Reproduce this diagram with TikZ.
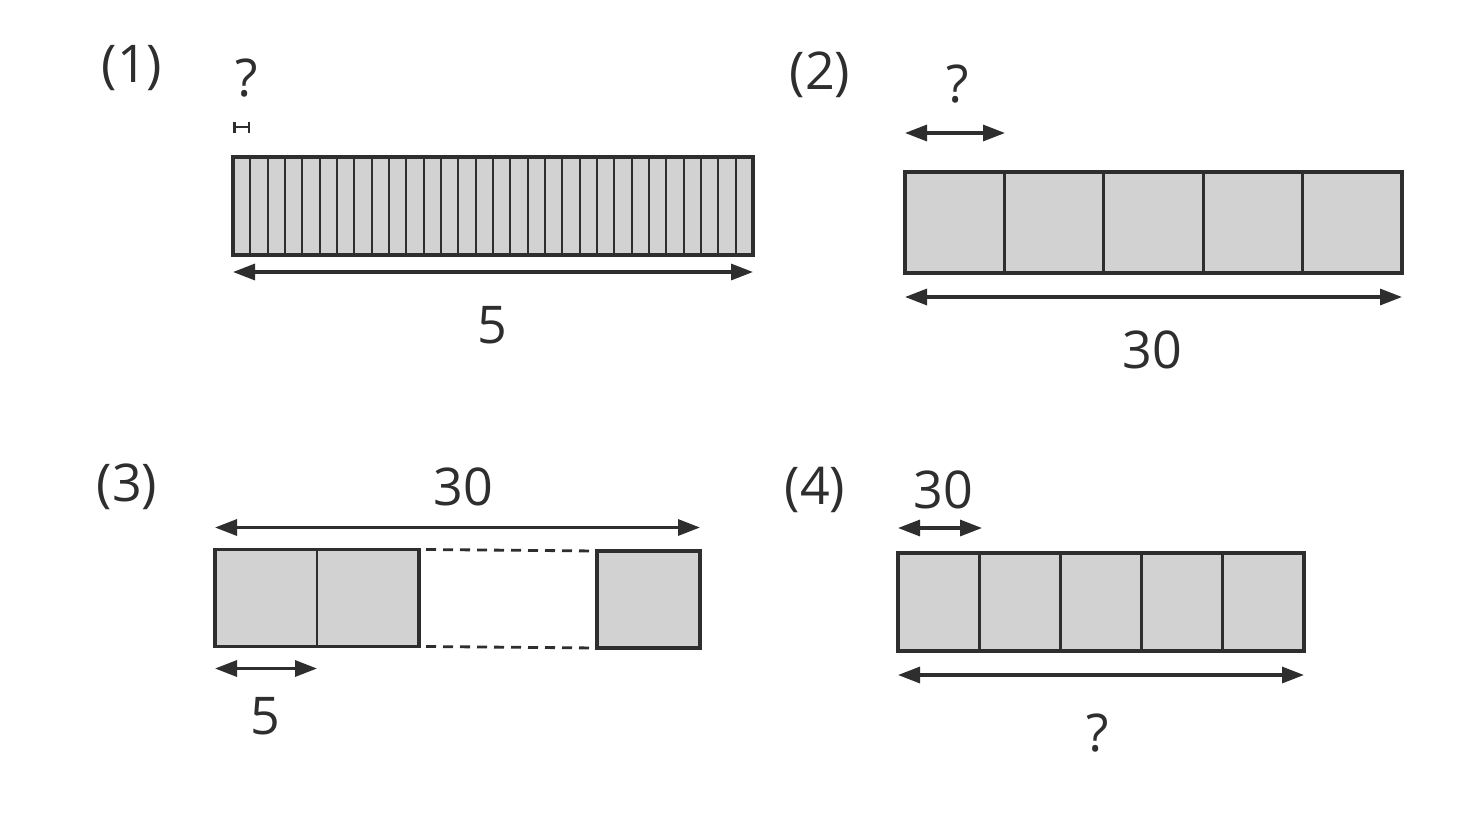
\documentclass[tikz,border=0pt]{standalone}
\usepackage{fontspec}
\setmainfont{Open Sans}
\usetikzlibrary{arrows.meta,positioning}
\definecolor{ink}{HTML}{2E2E2E}
\definecolor{shade}{HTML}{D2D2D2}
\begin{document}
\begin{tikzpicture}[x=1pt, y=-1pt,
    tape/.style={draw=ink, line width=3.6pt, fill=shade, inner sep=0pt, outer sep=0pt},
    divider/.style={draw=ink, line width=2.8pt},
    dimarrow/.style={draw=ink, line width=3.2pt, {Triangle[length=22pt,width=16pt]}-{Triangle[length=22pt,width=16pt]}},
    label/.style={text=ink, inner sep=0pt, font=\fontsize{52}{62}\selectfont}]
  \useasboundingbox[fill=white] (0,0) rectangle (1458,822);

  % (1) 5 split into 30 strips
  \node[label] (n1) at (132,68) {(1)};
  \node[tape, minimum width=520pt, minimum height=98pt] (b1) at (493,206) {};
  \foreach \k in {1,...,29}
    \draw[divider, line width=2.3pt] ([xshift=\k*17.333pt]b1.north west) -- ([xshift=\k*17.333pt]b1.south west);
  \draw[draw=ink, line width=2.6pt, {Bar[width=11pt]}-{Bar[width=11pt]}] ([yshift=30pt]b1.north west) -- ([xshift=17.3pt, yshift=30pt]b1.north west);
  \draw[dimarrow] ([yshift=-17pt]b1.south west) -- ([yshift=-17pt]b1.south east);
  \node[label] (q1) at (247,78) {?};
  \node[label] (v1) at (492,325) {5};

  % (2) 30 split into 5
  \node[label] (n2) at (820,75) {(2)};
  \node[tape, minimum width=497pt, minimum height=101pt] (b2) at (1153.5,222.5) {};
  \foreach \k in {1,...,4}
    \draw[divider] ([xshift=\k*99.4pt]b2.north west) -- ([xshift=\k*99.4pt]b2.south west);
  \draw[dimarrow] ([yshift=39pt]b2.north west) -- ([xshift=100pt, yshift=39pt]b2.north west);
  \draw[dimarrow] ([yshift=-24pt]b2.south west) -- ([yshift=-24pt]b2.south east);
  \node[label] (q2) at (958,84) {?};
  \node[label] (v2) at (1152,350) {30};

  % (3) 30 in parts of 5
  \node[label] (n3) at (127,487) {(3)};
  \node[tape, minimum width=204pt, minimum height=97pt] (b3) at (317,598) {};
  \node[tape, minimum width=103pt, minimum height=97pt] (c3) at (648.5,599.5) {};
  \draw[divider] (b3.north) -- (b3.south);
  \draw[divider, dash pattern=on 10pt off 7pt] ([xshift=7pt]b3.north east) -- (c3.north west);
  \draw[divider, dash pattern=on 10pt off 7pt] ([xshift=7pt]b3.south east) -- (c3.south west);
  \draw[dimarrow] ([yshift=22pt]b3.north west) -- ([yshift=22pt]b3.north west -| c3.east);
  \draw[dimarrow] ([yshift=-22pt]b3.south west) -- ([yshift=-22pt]b3.south);
  \node[label] (v3) at (463,487) {30};
  \node[label] (w3) at (265,716) {5};

  % (4) 5 parts of 30
  \node[label] (n4) at (815,490) {(4)};
  \node[tape, minimum width=406pt, minimum height=98pt] (b4) at (1101,602) {};
  \foreach \k in {1,...,4}
    \draw[divider] ([xshift=\k*81.2pt]b4.north west) -- ([xshift=\k*81.2pt]b4.south west);
  \draw[dimarrow] ([yshift=25pt]b4.north west) -- ([xshift=84pt, yshift=25pt]b4.north west);
  \draw[dimarrow] ([yshift=-24pt]b4.south west) -- ([yshift=-24pt]b4.south east);
  \node[label] (v4) at (943,490) {30};
  \node[label] (q4) at (1098,733) {?};
\end{tikzpicture}
\end{document}
